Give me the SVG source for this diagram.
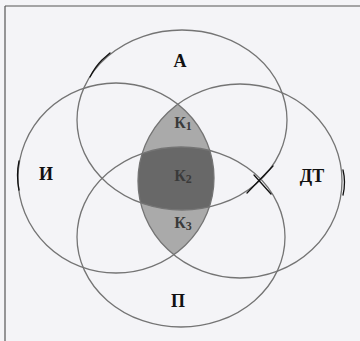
<svg xmlns="http://www.w3.org/2000/svg" width="360" height="341" viewBox="0 0 360 341">
  <defs>
    <style>
      .c { fill: none; stroke: #747474; stroke-width: 1.3; }
      .lbl { font-family: "Liberation Serif", "DejaVu Serif", serif; font-weight: bold; font-size: 18px; fill: #111; text-anchor: middle; }
      .k { font-family: "Liberation Serif", "DejaVu Serif", serif; font-weight: bold; font-size: 16px; fill: #3a3a3a; text-anchor: middle; }
      .ink { fill: none; stroke: #111; stroke-width: 1.3; stroke-linecap: round; }
    </style>
    <clipPath id="cI"><ellipse cx="116" cy="178" rx="98" ry="95"/></clipPath>
    <clipPath id="cD"><ellipse cx="240" cy="181" rx="102" ry="97"/></clipPath>
    <clipPath id="cA"><ellipse cx="182" cy="120" rx="105" ry="90"/></clipPath>
  </defs>

  <rect x="0" y="0" width="360" height="341" fill="#f4f4f7"/>
  <line x1="5" y1="6" x2="360" y2="6" stroke="#555" stroke-width="1.2"/>
  <line x1="5" y1="6" x2="5" y2="341" stroke="#555" stroke-width="1.2"/>

  <g id="regions">
    <g clip-path="url(#cI)">
      <g clip-path="url(#cD)">
        <rect x="0" y="0" width="360" height="341" fill="#aaaaaa"/>
        <g clip-path="url(#cA)">
          <ellipse cx="181" cy="237" rx="104" ry="90" fill="#686868"/>
        </g>
      </g>
    </g>
  </g>

  <g id="A">
    <ellipse class="c" cx="182" cy="120" rx="105" ry="90"/>
    <text class="lbl" x="180" y="67">А</text>
  </g>
  <g id="I">
    <ellipse class="c" cx="116" cy="178" rx="98" ry="95"/>
    <text class="lbl" x="46" y="180">И</text>
  </g>
  <g id="DT">
    <ellipse class="c" cx="240" cy="181" rx="102" ry="97"/>
    <text class="lbl" x="312" y="182">ДТ</text>
  </g>
  <g id="P">
    <ellipse class="c" cx="181" cy="237" rx="104" ry="90"/>
    <text class="lbl" x="178" y="307">П</text>
  </g>

  <g id="K1"><text class="k" x="183" y="128">К<tspan font-size="12" dy="2">1</tspan></text></g>
  <g id="K2"><text class="k" x="183" y="181">К<tspan font-size="12" dy="2">2</tspan></text></g>
  <g id="K3"><text class="k" x="183" y="228">К<tspan font-size="12" dy="2">3</tspan></text></g>

  <g id="connectors">
    <path class="ink" d="M90,77 Q95,67 102,60 L110,53"/>
    <path class="ink" d="M19,161 Q16,175 19,190"/>
    <path class="ink" d="M343,170 Q346,182 343,195"/>
    <path class="ink" d="M247,193 L273,166"/>
    <path class="ink" d="M254,175 L271,194"/>
  </g>
</svg>
